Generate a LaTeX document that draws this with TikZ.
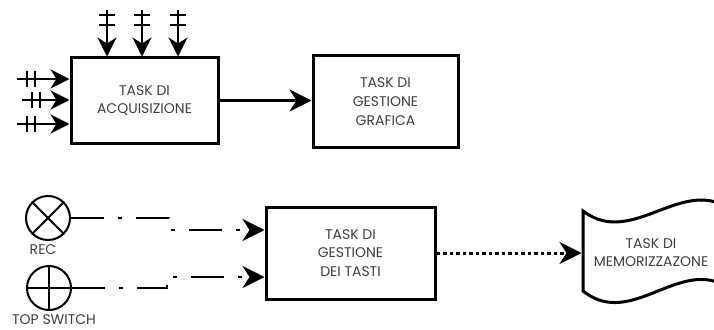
\documentclass[tikz,border=0pt]{standalone}
\usepackage{fontspec}
\setmainfont{Poppins}
\usetikzlibrary{arrows.meta,calc}
\definecolor{txt}{RGB}{62,62,62}
\begin{document}
\begin{tikzpicture}[x=1pt,y=-1pt,
  lbl/.style={font=\fontsize{14}{18.7}\selectfont, text=txt, align=center},
  taskbox/.style={draw, line width=3pt, inner sep=0pt, lbl},
  tip/.style={-{Stealth[length=22pt,width=22pt,inset=7pt]}},
  smalltip/.style={-{Stealth[length=19pt,width=19pt,inset=6pt]}},
  sig/.style={line width=2pt},
  bar/.style={line width=1.8pt},
  switch/.style={circle, draw, line width=2pt, minimum size=44pt, inner sep=0pt},
  dashdot/.style={line width=2.8pt, dash pattern=on 33pt off 14pt on 4pt off 14pt},
  dotline/.style={line width=3pt, dash pattern=on 3.5pt off 3pt}
]
\useasboundingbox (0,0) rectangle (714,329);

% task blocks
\node[taskbox, minimum width=147pt, minimum height=85pt] (acq) at (144.5,100.5) {TASK DI\\ACQUISIZIONE};
\node[taskbox, minimum width=145pt, minimum height=91pt] (graf) at (385.5,101.5) {TASK DI\\GESTIONE\\GRAFICA};
\node[taskbox, minimum width=169pt, minimum height=92pt] (tasti) at (350.5,253) {TASK DI\\GESTIONE\\DEI TASTI};

% bus inputs from above
\foreach \x [count=\i] in {107,142,178} {
  \coordinate (top\i) at (\x,10);
  \draw[sig, smalltip] (top\i) -- (top\i |- acq.north);
  \draw[bar] (\x-8,15) -- (\x+8,15) (\x-8,25) -- (\x+8,25);
}

% bus inputs from the left
\foreach \x/\y [count=\i] in {17/79, 22/100, 17/124} {
  \coordinate (left\i) at (\x,\y);
  \draw[sig, smalltip] (left\i) -- (left\i -| acq.west);
  \draw[bar] (\x+10,\y-8) -- (\x+10,\y+8) (\x+18,\y-8) -- (\x+18,\y+8);
}

% acquisition -> graphics
\draw[line width=2.5pt, tip] (acq.east) -- (acq.east -| graf.west);

% switches
\node[switch] (rec) at (48,218) {};
\draw[line width=2pt] (rec.45) -- (rec.225) (rec.135) -- (rec.315);
\node[lbl, inner sep=1pt] (reclbl) at (43,250) {REC};

\node[switch] (ts) at (49,288) {};
\draw[line width=2pt] (ts.north) -- (ts.south) (ts.west) -- (ts.east);
\node[lbl, inner sep=1pt] (tslbl) at (54,319.5) {TOP SWITCH};

% switch lines into the key task
\coordinate (j1) at (169,218);
\coordinate (t1) at ($(tasti.west)+(0,-23)$);
\draw[dashdot, tip] (rec.east) -- (j1) -- (j1 |- t1) -- (t1);

\coordinate (j2) at (167,288);
\coordinate (t2) at ($(tasti.west)+(0,24)$);
\draw[dashdot, tip] (ts.east) -- (j2) -- (j2 |- t2) -- (t2);

% storage task (wavy outline)
\draw[line width=3pt] (583,211) .. controls (633,249) and (683,173) .. (733,211)
  -- (733,291) .. controls (683,251) and (633,331) .. (583,291) -- cycle;
\node[lbl] (mem) at (651,252.5) {TASK DI\\MEMORIZZAZONE};
\coordinate (memin) at (581.5,252);

\draw[dotline, tip] (tasti.east) -- (tasti.east -| memin);
\end{tikzpicture}
\end{document}
